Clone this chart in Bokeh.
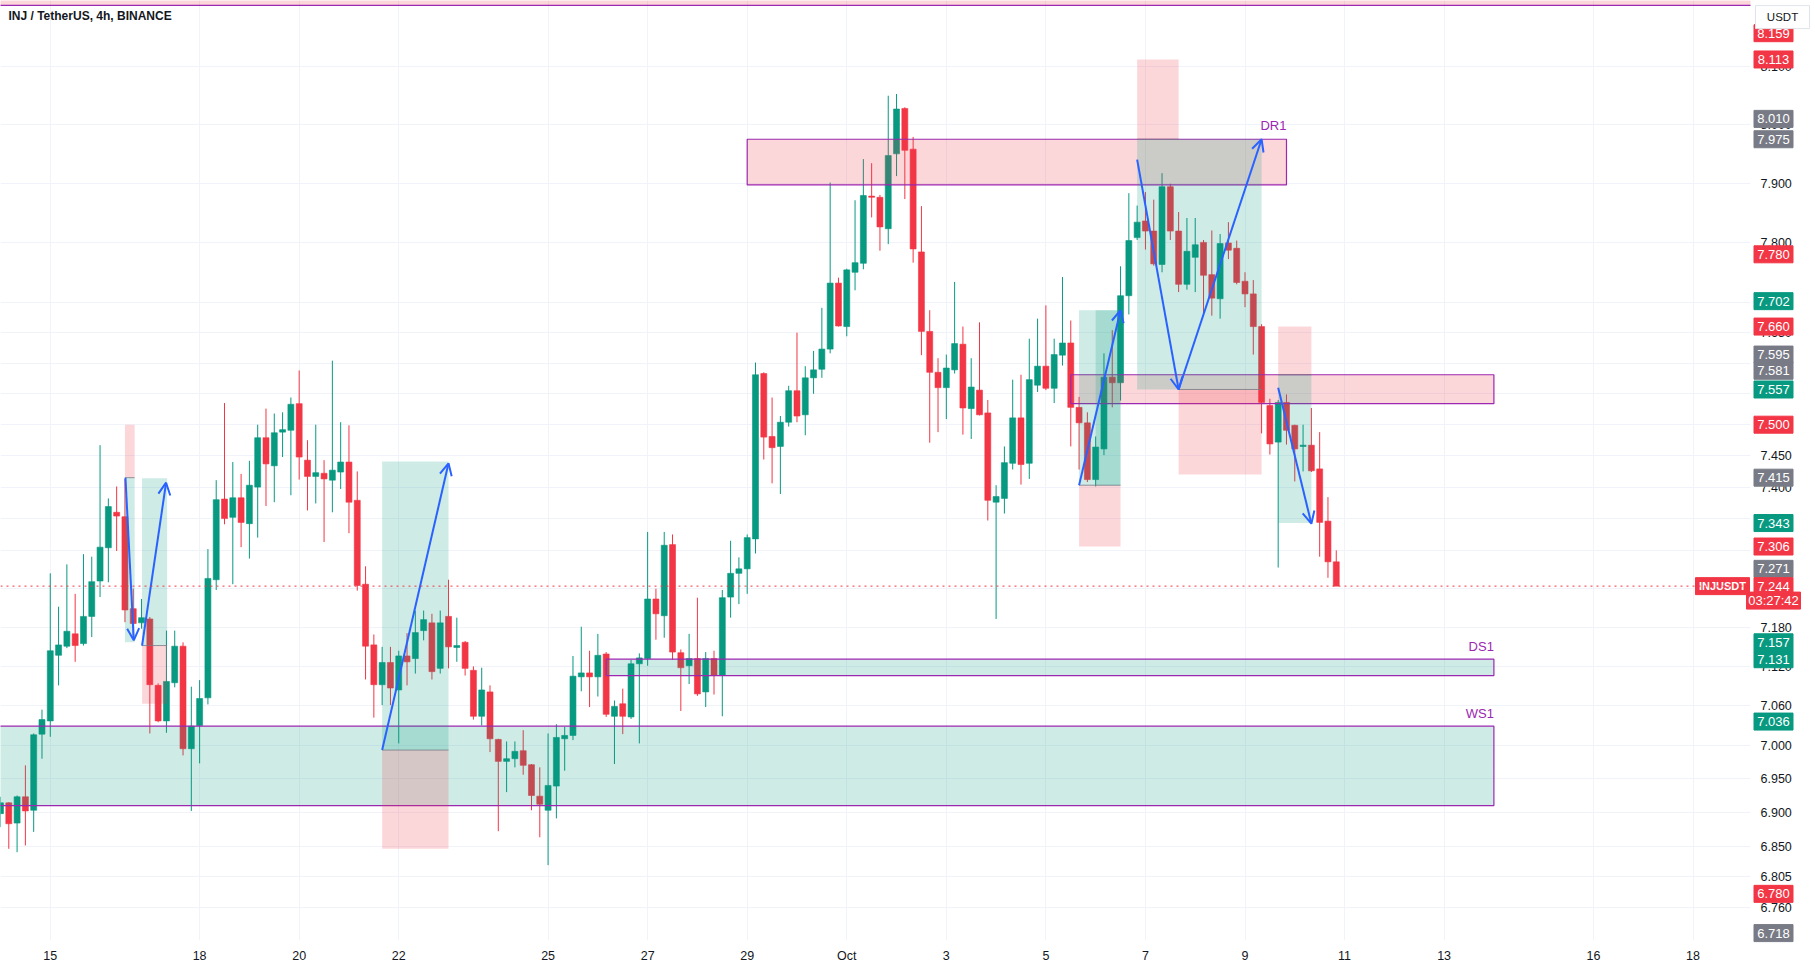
import pandas as pd
from bokeh.plotting import figure
from bokeh.models import (Range1d, FixedTicker, PrintfTickFormatter, Label, Span,
                          Arrow, OpenHead, ColumnDataSource)
from bokeh.core.properties import value
from bokeh.embed import file_html
from bokeh.resources import INLINE

# ---------------- data (4h candles, INJ/USDT) ----------------
first_candle = "2023-09-14 00:00"

opens = [6.898, 6.914, 6.884, 6.923, 6.903, 7.017, 7.037, 7.137, 7.151, 7.170,
         7.155, 7.197, 7.252, 7.304, 7.360, 7.353, 7.209, 7.187, 7.193, 7.091,
         7.037, 7.095, 7.151, 6.995, 7.030, 7.072, 7.254, 7.381, 7.352, 7.383,
         7.342, 7.400, 7.479, 7.434, 7.488, 7.491, 7.534, 7.443, 7.417, 7.422,
         7.411, 7.424, 7.440, 7.379, 7.247, 7.153, 7.092, 7.126, 7.084, 7.136,
         7.132, 7.175, 7.187, 7.117, 7.197, 7.149, 7.157, 7.114, 7.044, 7.081,
         7.009, 6.976, 6.980, 6.992, 6.971, 6.924, 6.903, 6.939, 7.010, 7.015,
         7.104, 7.110, 7.104, 7.139, 7.044, 7.063, 7.043, 7.124, 7.132, 7.224,
         7.198, 7.309, 7.141, 7.121, 7.132, 7.081, 7.132, 7.106, 7.227, 7.264,
         7.271, 7.318, 7.583, 7.481, 7.465, 7.504, 7.555, 7.516, 7.576, 7.590,
         7.623, 7.732, 7.660, 7.750, 7.765, 7.878, 7.876, 7.823, 7.950, 8.028,
         7.958, 7.784, 7.652, 7.585, 7.560, 7.589, 7.631, 7.526, 7.556, 7.519,
         7.376, 7.382, 7.438, 7.511, 7.438, 7.564, 7.595, 7.559, 7.613, 7.633,
         7.528, 7.503, 7.412, 7.461, 7.577, 7.568, 7.711, 7.808, 7.836, 7.819,
         7.763, 7.894, 7.819, 7.730, 7.775, 7.800, 7.746, 7.706, 7.799, 7.790,
         7.735, 7.714, 7.660, 7.531, 7.472, 7.536, 7.499, 7.465, 7.467, 7.429,
         7.346, 7.282]

highs = [6.923, 6.915, 6.925, 6.970, 7.018, 7.054, 7.264, 7.212, 7.278, 7.232,
         7.294, 7.290, 7.467, 7.382, 7.401, 7.413, 7.240, 7.224, 7.196, 7.094,
         7.175, 7.175, 7.157, 7.089, 7.099, 7.302, 7.411, 7.535, 7.440, 7.421,
         7.442, 7.500, 7.526, 7.518, 7.520, 7.544, 7.588, 7.475, 7.500, 7.443,
         7.604, 7.504, 7.499, 7.425, 7.275, 7.169, 7.150, 7.150, 7.144, 7.171,
         7.206, 7.206, 7.201, 7.206, 7.254, 7.195, 7.159, 7.120, 7.118, 7.091,
         7.010, 7.006, 7.006, 7.023, 6.972, 6.967, 7.018, 7.032, 7.028, 7.136,
         7.181, 7.144, 7.170, 7.142, 7.068, 7.086, 7.130, 7.140, 7.329, 7.240,
         7.329, 7.325, 7.146, 7.170, 7.226, 7.142, 7.144, 7.238, 7.315, 7.289,
         7.325, 7.601, 7.585, 7.544, 7.514, 7.563, 7.650, 7.595, 7.620, 7.691,
         7.901, 7.741, 7.756, 7.871, 7.941, 7.934, 7.880, 8.050, 8.053, 8.030,
         7.979, 7.861, 7.687, 7.608, 7.614, 7.734, 7.660, 7.608, 7.667, 7.540,
         7.403, 7.465, 7.573, 7.581, 7.640, 7.673, 7.695, 7.640, 7.742, 7.670,
         7.545, 7.520, 7.481, 7.616, 7.654, 7.760, 7.883, 7.862, 7.885, 7.872,
         7.917, 7.899, 7.851, 7.841, 7.841, 7.804, 7.820, 7.814, 7.834, 7.803,
         7.750, 7.737, 7.664, 7.542, 7.540, 7.549, 7.500, 7.500, 7.527, 7.488,
         7.384, 7.300]

lows = [6.878, 6.846, 6.841, 6.851, 6.871, 6.980, 7.013, 7.091, 7.148, 7.127,
        7.152, 7.165, 7.227, 7.250, 7.299, 7.188, 7.165, 7.178, 7.018, 7.035,
        7.019, 7.088, 6.985, 6.902, 6.973, 7.062, 7.238, 7.341, 7.247, 7.305,
        7.287, 7.320, 7.370, 7.376, 7.448, 7.387, 7.412, 7.363, 7.374, 7.313,
        7.360, 7.397, 7.327, 7.237, 7.100, 7.042, 7.061, 7.061, 7.003, 7.091,
        7.109, 7.160, 7.100, 7.109, 7.117, 7.127, 7.106, 7.039, 7.030, 6.990,
        6.872, 6.930, 6.967, 6.956, 6.903, 6.863, 6.822, 6.891, 6.962, 7.008,
        7.082, 7.058, 7.074, 7.043, 6.972, 7.017, 7.040, 7.003, 7.121, 7.161,
        7.164, 7.130, 7.052, 7.093, 7.075, 7.058, 7.077, 7.044, 7.195, 7.216,
        7.232, 7.295, 7.444, 7.406, 7.389, 7.497, 7.504, 7.483, 7.550, 7.576,
        7.616, 7.660, 7.644, 7.720, 7.755, 7.842, 7.786, 7.797, 7.912, 7.873,
        7.766, 7.613, 7.471, 7.488, 7.509, 7.583, 7.484, 7.477, 7.515, 7.347,
        7.193, 7.358, 7.428, 7.404, 7.413, 7.553, 7.556, 7.535, 7.596, 7.465,
        7.428, 7.408, 7.401, 7.451, 7.528, 7.539, 7.680, 7.804, 7.788, 7.761,
        7.750, 7.804, 7.717, 7.721, 7.717, 7.681, 7.678, 7.673, 7.772, 7.730,
        7.692, 7.614, 7.486, 7.452, 7.273, 7.468, 7.409, 7.425, 7.424, 7.290,
        7.257, 7.244]

closes = [6.914, 6.883, 6.923, 6.902, 7.016, 7.039, 7.144, 7.153, 7.174, 7.152,
          7.197, 7.251, 7.305, 7.369, 7.354, 7.207, 7.186, 7.195, 7.092, 7.037,
          7.097, 7.151, 6.995, 7.029, 7.071, 7.256, 7.380, 7.350, 7.383, 7.344,
          7.403, 7.479, 7.437, 7.487, 7.492, 7.533, 7.448, 7.417, 7.423, 7.413,
          7.427, 7.440, 7.376, 7.245, 7.151, 7.092, 7.126, 7.087, 7.136, 7.127,
          7.172, 7.192, 7.112, 7.187, 7.150, 7.152, 7.117, 7.044, 7.084, 7.010,
          6.976, 6.980, 6.991, 6.970, 6.925, 6.912, 6.940, 7.012, 7.015, 7.105,
          7.110, 7.104, 7.137, 7.047, 7.059, 7.044, 7.124, 7.133, 7.224, 7.201,
          7.308, 7.142, 7.118, 7.132, 7.078, 7.132, 7.106, 7.226, 7.264, 7.271,
          7.320, 7.581, 7.480, 7.463, 7.504, 7.555, 7.514, 7.576, 7.589, 7.623,
          7.732, 7.661, 7.754, 7.766, 7.879, 7.876, 7.826, 7.947, 8.027, 7.956,
          7.789, 7.652, 7.585, 7.560, 7.592, 7.632, 7.527, 7.561, 7.516, 7.379,
          7.385, 7.439, 7.511, 7.436, 7.573, 7.595, 7.559, 7.614, 7.633, 7.528,
          7.503, 7.412, 7.464, 7.577, 7.568, 7.711, 7.803, 7.834, 7.819, 7.764,
          7.894, 7.819, 7.730, 7.785, 7.796, 7.745, 7.707, 7.798, 7.787, 7.733,
          7.714, 7.660, 7.536, 7.469, 7.536, 7.491, 7.461, 7.467, 7.426, 7.344,
          7.282, 7.244]

last_price = 7.244
countdown = "03:27:42"

# x-axis tick dates and labels
xtick_dates = ["2023-09-15", "2023-09-18", "2023-09-20", "2023-09-22", "2023-09-25",
               "2023-09-27", "2023-09-29", "2023-10-01", "2023-10-03", "2023-10-05",
               "2023-10-07", "2023-10-09", "2023-10-11", "2023-10-13", "2023-10-16",
               "2023-10-18"]
xtick_labels = ["15", "18", "20", "22", "25", "27", "29", "Oct", "3", "5", "7", "9",
                "11", "13", "16", "18"]

# price-axis ticks (log scale)
ytick_vals = [6.760, 6.805, 6.850, 6.900, 6.950, 7.000, 7.060, 7.120, 7.180, 7.240,
              7.300, 7.350, 7.400, 7.450, 7.500, 7.550, 7.600, 7.650, 7.700, 7.800,
              7.900, 8.000, 8.100]

# zones
zone_names = ["", "DR1", "", "DS1", "WS1"]
zone_left = ["2023-09-10", "2023-09-29 00:00", "2023-10-05 12:00", "2023-09-26 04:00", "2023-09-10"]
zone_right = ["2023-10-25", "2023-10-09 20:00", "2023-10-14 00:00", "2023-10-14 00:00", "2023-10-14 00:00"]
zone_top = [8.400, 7.975, 7.581, 7.131, 7.029]
zone_bottom = [8.208, 7.897, 7.534, 7.106, 6.910]
zone_kind = ["red", "red", "red", "green", "green"]
zone_label_price = [None, 7.998, None, 7.150, 7.048]

# position tools: left, right, entry, target, stop
pos_left = ["2023-09-16 12:00", "2023-09-16 20:15", "2023-09-21 16:00", "2023-10-05 16:00",
            "2023-10-06 20:00", "2023-10-07 16:00", "2023-10-09 16:00"]
pos_right = ["2023-09-16 16:40", "2023-09-17 08:20", "2023-09-23 00:00", "2023-10-06 12:00",
             "2023-10-07 16:00", "2023-10-09 08:00", "2023-10-10 08:00"]
pos_entry = [7.415, 7.152, 6.993, 7.403, 7.975, 7.557, 7.581]
pos_target = [7.157, 7.414, 7.441, 7.687, 7.557, 7.975, 7.343]
pos_stop = [7.500, 7.063, 6.846, 7.306, 8.113, 7.420, 7.660]
extra_left, extra_right, extra_top, extra_bottom = "2023-10-06 00:00", "2023-10-06 12:00", 7.687, 7.403

# arrows
arrow_x0 = ["2023-09-16 12:15", "2023-09-16 20:15", "2023-09-21 16:00", "2023-10-05 16:00",
            "2023-10-06 20:00", "2023-10-07 16:00", "2023-10-09 16:00"]
arrow_y0 = [7.415, 7.152, 6.993, 7.403, 7.940, 7.557, 7.560]
arrow_x1 = ["2023-09-16 16:15", "2023-09-17 07:50", "2023-09-23 00:00", "2023-10-06 12:00",
            "2023-10-07 16:00", "2023-10-09 08:00", "2023-10-10 08:00"]
arrow_y1 = [7.160, 7.407, 7.438, 7.687, 7.557, 7.975, 7.342]

# price tags on the right axis (value, colour, where the tag sits after de-overlapping)
tag_text = ["8.159", "8.113", "8.010", "7.975", "7.780", "7.702", "7.660", "7.595", "7.581",
            "7.557", "7.500", "7.415", "7.343", "7.306", "7.271", "7.157", "7.131", "7.036",
            "6.780", "6.718"]
tag_kind = ["red", "red", "grey", "grey", "red", "green", "red", "grey", "grey",
            "green", "red", "grey", "green", "red", "grey", "green", "green", "green",
            "red", "grey"]
tag_anchor = [8.159, 8.113, 8.010, 7.975, 7.780, 7.702, 7.660, 7.614, 7.5875,
              7.557, 7.500, 7.415, 7.343, 7.306, 7.271, 7.157, 7.131, 7.036,
              6.780, 6.723]

# ---------------- styling ----------------
GREEN = "#089981"
RED = "#f23645"
GREY = "#787b86"
PURPLE = "#9c27b0"
BLUE = "#2962ff"
TXT = "#131722"
FONT = "Liberation Sans"
KIND = {"red": RED, "green": GREEN, "grey": GREY}
W, H = 1815, 969
FRAME_W = 1750


def ms(s):
    return int((pd.Timestamp(s) - pd.Timestamp("1970-01-01")) / pd.Timedelta(milliseconds=1))


t0 = pd.Timestamp(first_candle)
times = [ms(t0 + pd.Timedelta(hours=4 * i)) for i in range(len(opens))]
x_start = ms(t0)
x_end = ms(t0 + pd.Timedelta(days=FRAME_W / 49.78))


def x_at(px):
    # data x for a pixel column (used to place tags in the price-scale strip)
    return x_start + (x_end - x_start) * px / FRAME_W


p = figure(width=W, height=H, title=None,
           x_axis_type="datetime", y_axis_type="log", y_axis_location="right",
           x_range=Range1d(x_start, x_end), y_range=Range1d(6.7123, 8.2166),
           output_backend="svg", toolbar_location=None,
           min_border_left=0, min_border_right=W - FRAME_W, min_border_top=0,
           min_border_bottom=29)
p.outline_line_color = None
p.background_fill_color = "white"
p.border_fill_color = "white"

# axes
xt = [ms(d) for d in xtick_dates]
p.xaxis.ticker = FixedTicker(ticks=xt)
p.xaxis.major_label_overrides = {v: l for v, l in zip(xt, xtick_labels)}
p.xgrid.ticker = FixedTicker(ticks=xt)
p.yaxis.ticker = FixedTicker(ticks=ytick_vals)
p.ygrid.ticker = FixedTicker(ticks=ytick_vals)
p.yaxis.formatter = PrintfTickFormatter(format="%.3f")
for ax in (p.xaxis[0], p.yaxis[0]):
    ax.axis_line_color = None
    ax.major_tick_line_color = None
    ax.minor_tick_line_color = None
    ax.major_tick_out = 0
    ax.major_tick_in = 0
    ax.minor_tick_out = 0
    ax.major_label_text_font = FONT
    ax.major_label_text_font_size = "12.5px"
    ax.major_label_text_color = TXT
p.xaxis.major_label_standoff = 8
p.yaxis.major_label_standoff = 10
p.grid.grid_line_color = "#f0f3fa"
p.grid.grid_line_width = 1

# candles
src = ColumnDataSource(dict(
    t=times, o=opens, h=highs, l=lows, c=closes,
    top=[max(a, b) for a, b in zip(opens, closes)],
    bot=[min(a, b) for a, b in zip(opens, closes)],
    col=[GREEN if c >= o else RED for o, c in zip(opens, closes)],
))
p.segment(x0="t", y0="l", x1="t", y1="h", line_color="col", line_width=1, source=src)
p.vbar(x="t", top="top", bottom="bot", width=4 * 3600 * 1000 * 0.72,
       fill_color="col", line_color="col", line_width=0.6, source=src)

# zones
for i in range(len(zone_top)):
    c = KIND[zone_kind[i]]
    p.quad(left=[ms(zone_left[i])], right=[ms(zone_right[i])], top=[zone_top[i]],
           bottom=[zone_bottom[i]], fill_color=c, fill_alpha=0.2,
           line_color=PURPLE, line_width=1.2)
    if zone_names[i]:
        p.add_layout(Label(x=ms(zone_right[i]), y=zone_label_price[i], text=zone_names[i],
                           text_align="right", text_baseline="middle",
                           text_color=PURPLE, text_font=FONT, text_font_size="13px"))

# position tools
for i in range(len(pos_entry)):
    l, r = ms(pos_left[i]), ms(pos_right[i])
    e, tg, st = pos_entry[i], pos_target[i], pos_stop[i]
    p.quad(left=[l], right=[r], top=[max(e, tg)], bottom=[min(e, tg)],
           fill_color=GREEN, fill_alpha=0.2, line_color=None)
    p.quad(left=[l], right=[r], top=[max(e, st)], bottom=[min(e, st)],
           fill_color=RED, fill_alpha=0.2, line_color=None)
    p.segment(x0=[l], y0=[e], x1=[r], y1=[e], line_color=GREY, line_width=1, line_alpha=0.8)
p.quad(left=[ms(extra_left)], right=[ms(extra_right)], top=[extra_top], bottom=[extra_bottom],
       fill_color=GREEN, fill_alpha=0.2, line_color=None)

# arrows
for i in range(len(arrow_x0)):
    p.add_layout(Arrow(x_start=ms(arrow_x0[i]), y_start=arrow_y0[i],
                       x_end=ms(arrow_x1[i]), y_end=arrow_y1[i],
                       line_color=BLUE, line_width=2,
                       end=OpenHead(size=12, line_color=BLUE, line_width=2)))

# current price line
p.add_layout(Span(location=last_price, dimension="width", line_color=RED,
                  line_dash="dotted", line_width=1))

# title
p.add_layout(Label(x=8, y=8.189, x_units="screen", text="INJ / TetherUS, 4h, BINANCE",
                   text_baseline="middle", text_align="left", text_color=TXT,
                   text_font=FONT, text_font_size="12px", text_font_style="bold"))

# ---- price tags drawn in the price-scale strip (glyphs at annotation level) ----
tx = x_at(1773)
tag_x = [tx] * len(tag_text) + [tx, tx]
tag_y = list(tag_anchor) + [7.2215, last_price]
tag_lbl = list(tag_text) + [countdown, "%.3f" % last_price]
tag_col = [KIND[k] for k in tag_kind] + [RED, RED]
tag_w = [39] * len(tag_text) + [54, 39]
tsrc = ColumnDataSource(dict(x=tag_x, y=tag_y, text=tag_lbl, col=tag_col, w=tag_w))
p.rect(x="x", y="y", width="w", height=17, width_units="screen", height_units="screen",
       fill_color="col", line_color="col", source=tsrc, level="annotation")
p.text(x="x", y="y", text="text", text_align="center", text_baseline="middle",
       text_color="white", text_font=value(FONT), text_font_size="13px",
       source=tsrc, level="annotation")

# INJUSDT symbol tag
p.rect(x=[x_at(1722)], y=[last_price], width=54, height=17, width_units="screen",
       height_units="screen", fill_color=RED, line_color=RED, level="annotation")
p.text(x=[x_at(1722)], y=[last_price], text=["INJUSDT"], text_align="center",
       text_baseline="middle", text_color="white", text_font=value(FONT),
       text_font_size="11px", text_font_style="bold", level="annotation")

# currency button
p.rect(x=[x_at(1782)], y=[8.1873], width=54, height=23, width_units="screen",
       height_units="screen", fill_color="white", line_color="#e0e3eb", level="annotation")
p.text(x=[x_at(1782)], y=[8.1873], text=["USDT"], text_align="center",
       text_baseline="middle", text_color=TXT, text_font=value(FONT),
       text_font_size="11.5px", level="annotation")

open("out.html", "w").write(file_html(p, INLINE, title="INJUSDT 4h"))
